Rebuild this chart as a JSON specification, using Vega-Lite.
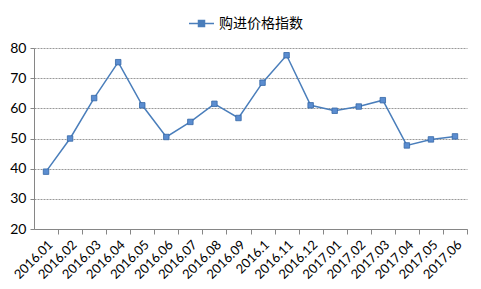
{
  "$schema": "https://vega.github.io/schema/vega-lite/v6.json",
  "width": 433,
  "height": 181,
  "autosize": {"type": "none"},
  "padding": {"left": 34, "top": 48, "right": 14, "bottom": 60},
  "background": "white",
  "config": {
    "view": {"stroke": null},
    "font": "Lato"
  },
  "data": {
    "values": [
      {"month": "2016.01", "value": 39.0, "series": "购进价格指数"},
      {"month": "2016.02", "value": 50.0, "series": "购进价格指数"},
      {"month": "2016.03", "value": 63.4, "series": "购进价格指数"},
      {"month": "2016.04", "value": 75.3, "series": "购进价格指数"},
      {"month": "2016.05", "value": 61.0, "series": "购进价格指数"},
      {"month": "2016.06", "value": 50.5, "series": "购进价格指数"},
      {"month": "2016.07", "value": 55.5, "series": "购进价格指数"},
      {"month": "2016.08", "value": 61.5, "series": "购进价格指数"},
      {"month": "2016.09", "value": 56.8, "series": "购进价格指数"},
      {"month": "2016.1", "value": 68.5, "series": "购进价格指数"},
      {"month": "2016.11", "value": 77.6, "series": "购进价格指数"},
      {"month": "2016.12", "value": 61.0, "series": "购进价格指数"},
      {"month": "2017.01", "value": 59.2, "series": "购进价格指数"},
      {"month": "2017.02", "value": 60.6, "series": "购进价格指数"},
      {"month": "2017.03", "value": 62.7, "series": "购进价格指数"},
      {"month": "2017.04", "value": 47.7, "series": "购进价格指数"},
      {"month": "2017.05", "value": 49.7, "series": "购进价格指数"},
      {"month": "2017.06", "value": 50.7, "series": "购进价格指数"}
    ]
  },
  "mark": {
    "type": "line",
    "strokeWidth": 1.5,
    "point": {"shape": "square", "filled": true, "size": 30, "stroke": "#3567a6", "strokeWidth": 0.8, "fill": "#5b8dd0"}
  },
  "encoding": {
    "x": {
      "field": "month",
      "type": "ordinal",
      "sort": null,
      "scale": {"type": "point", "padding": 0.5},
      "axis": {
        "title": null,
        "labelAngle": -45,
        "labelFontSize": 13,
        "labelColor": "#000000",
        "labelPadding": 4,
        "domainColor": "#868686",
        "tickColor": "#868686",
        "tickSize": 5,
        "tickOffset": 12.03,
        "labelOffset": -12.03,
        "grid": false
      }
    },
    "y": {
      "field": "value",
      "type": "quantitative",
      "scale": {"domain": [20, 80], "nice": false, "zero": false},
      "axis": {
        "title": null,
        "values": [20, 30, 40, 50, 60, 70, 80],
        "labelFontSize": 14,
        "labelColor": "#000000",
        "labelPadding": 4,
        "domainColor": "#868686",
        "tickColor": "#868686",
        "tickSize": 4,
        "gridColor": "#999999",
        "gridDash": [2, 1],
        "gridWidth": 1
      }
    },
    "color": {
      "field": "series",
      "type": "nominal",
      "scale": {"range": ["#4a7ebb"]},
      "legend": {
        "title": null,
        "orient": "none",
        "legendX": 154,
        "legendY": -38,
        "direction": "horizontal",
        "labelFont": "Noto Sans CJK SC",
        "labelFontSize": 14,
        "labelColor": "#000000",
        "symbolType": "M-0.24,-0.24L0.24,-0.24L0.24,0.24L-0.24,0.24ZM-1,0L-0.24,0M0.24,0L1,0",
        "symbolSize": 625,
        "symbolStrokeWidth": 1.5,
        "labelOffset": 4,
        "encode": {
          "symbols": {
            "update": {
              "fill": {"value": "#5b8dd0"},
              "stroke": {"value": "#4a7ebb"},
              "strokeDash": {"value": []}
            }
          }
        }
      }
    }
  }
}
